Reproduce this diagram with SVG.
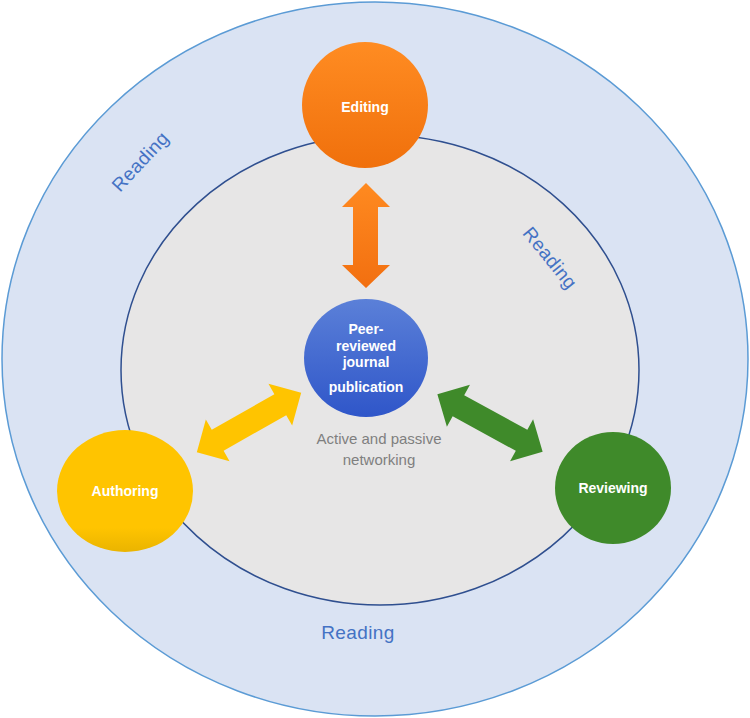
<svg xmlns="http://www.w3.org/2000/svg" width="750" height="718" viewBox="0 0 750 718">
<style>
.lbl{font-family:"Liberation Sans",Arial,sans-serif;font-weight:bold;font-size:14px;fill:#ffffff;text-anchor:middle}
.read{font-family:"Liberation Sans",Arial,sans-serif;font-size:19px;fill:#4472c4;text-anchor:middle;letter-spacing:0.4px}
.net{font-family:"Liberation Sans",Arial,sans-serif;font-size:15px;fill:#7f7f7f;text-anchor:middle}
</style>
<defs>
<linearGradient id="gOrange" x1="0" y1="0" x2="0" y2="1"><stop offset="0" stop-color="#ff8c22"/><stop offset="1" stop-color="#f0700c"/></linearGradient>
<linearGradient id="gBlue" x1="0" y1="0" x2="0" y2="1"><stop offset="0" stop-color="#5b80d8"/><stop offset="1" stop-color="#2f56c9"/></linearGradient>
<linearGradient id="gYellow" x1="0" y1="0" x2="0" y2="1"><stop offset="0" stop-color="#ffc400"/><stop offset="0.8" stop-color="#ffc400"/><stop offset="1" stop-color="#eab400"/></linearGradient>
<linearGradient id="gArrowO" x1="0" y1="0" x2="0" y2="1"><stop offset="0" stop-color="#ff8a20"/><stop offset="1" stop-color="#f26f10"/></linearGradient>
<path id="dbl" d="M -60 0 L -36 -24 L -36 -12 L 36 -12 L 36 -24 L 60 0 L 36 24 L 36 12 L -36 12 L -36 24 Z"/>
</defs>
<g id="outer">
<ellipse cx="375" cy="359" rx="373" ry="357" fill="#dae3f3" stroke="#5b9bd5" stroke-width="1.5"/>
</g>
<g id="inner">
<ellipse cx="380" cy="370" rx="259" ry="235" fill="#e7e6e6" stroke="#2f4f8f" stroke-width="1.5"/>
</g>
<g id="readings">
<text class="read" transform="translate(145,166) rotate(-47)">Reading</text>
<text class="read" transform="translate(545,262) rotate(51)">Reading</text>
<text class="read" x="358" y="639">Reading</text>
</g>
<g id="connectors">
<path d="M366 183 L390 207 L378 207 L378 265 L390 265 L366 288 L342 265 L353 265 L353 207 L342 207 Z" fill="url(#gArrowO)"/>
<use href="#dbl" transform="translate(249,422.5) rotate(-29.6)" fill="#ffc400"/>
<use href="#dbl" transform="translate(490,423) rotate(28.7)" fill="#3f8a2a"/>
</g>
<g id="editing">
<circle cx="365" cy="105" r="63" fill="url(#gOrange)"/>
<text class="lbl" x="365" y="112">Editing</text>
</g>
<g id="publication">
<ellipse cx="366" cy="358" rx="62" ry="59" fill="url(#gBlue)"/>
<text class="lbl" x="366" y="334">Peer-</text>
<text class="lbl" x="366" y="351">reviewed</text>
<text class="lbl" x="366" y="367">journal</text>
<text class="lbl" x="366" y="392">publication</text>
</g>
<g id="networking">
<text class="net" x="379" y="444">Active and passive</text>
<text class="net" x="379" y="465">networking</text>
</g>
<g id="authoring">
<ellipse cx="125" cy="491" rx="68" ry="61" fill="url(#gYellow)"/>
<text class="lbl" x="125" y="496">Authoring</text>
</g>
<g id="reviewing">
<ellipse cx="613" cy="488" rx="58" ry="56" fill="#3f8a2a"/>
<text class="lbl" x="613" y="493">Reviewing</text>
</g>
</svg>
